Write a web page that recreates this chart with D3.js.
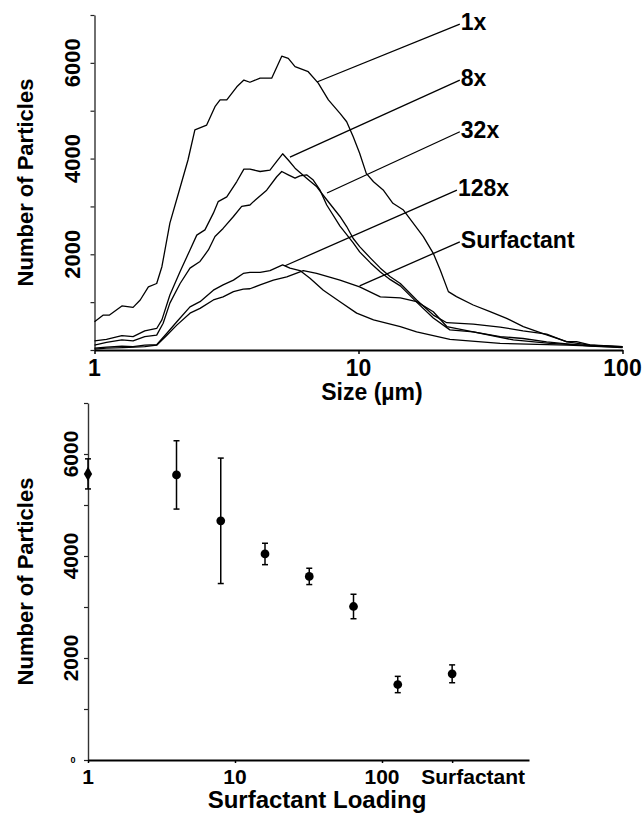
<!DOCTYPE html>
<html>
<head>
<meta charset="utf-8">
<script src="https://cdn.jsdelivr.net/npm/d3@7"></script>
<style>
  body { margin: 0; background: #fff; }
  svg { display: block; font-family: "Liberation Sans", Arial, sans-serif; font-weight: bold; }
</style>
</head>
<body>
<svg id="chart" width="643" height="818"></svg>
<script>
// Top panel: particle size distributions, [size in um, number of particles]
const curve1x = [[1.00,590],[1.08,730],[1.14,730],[1.27,920],[1.40,890],[1.49,1045],[1.60,1320],[1.72,1390],[1.80,1740],[1.93,2650],[2.08,3275],[2.26,3970],[2.40,4600],[2.66,4700],[2.86,5085],[2.99,5225],[3.17,5225],[3.46,5500],[3.68,5640],[3.88,5595],[4.24,5680],[4.69,5680],[5.12,6140],[5.42,6095],[5.75,5920],[6.45,5815],[7.04,5575],[7.69,5225],[8.51,4945],[9.02,4770],[9.55,4455],[10.1,4110],[10.7,3690],[11.4,3515],[12.4,3345],[13.5,3065],[14.8,2925],[17.6,2370],[19.2,2020],[20.4,1670],[21.9,1220],[23.5,1115],[27.2,940],[31.5,800],[36.4,660],[42.1,490],[51.6,315],[61.5,175],[67.0,175],[75.3,105],[100,70]];
const curve8x = [[1.00,190],[1.11,220],[1.27,300],[1.40,280],[1.55,400],[1.72,450],[1.80,630],[1.93,1150],[2.11,1640],[2.30,2090],[2.44,2400],[2.62,2510],[2.82,2860],[2.94,3100],[3.17,3200],[3.46,3520],[3.68,3780],[3.88,3780],[4.24,3730],[4.62,3760],[4.90,3940],[5.16,4100],[5.42,3970],[5.75,3800],[6.36,3590],[6.95,3410],[7.58,3140],[8.51,2790],[9.02,2580],[9.55,2330],[10.1,2160],[11.1,1920],[12.1,1710],[13.2,1530],[14.4,1390],[16.6,1045],[19.2,730],[21.6,570],[27.2,540],[34.4,480],[42.0,400],[51.6,330],[61.5,170],[75.3,100],[100,60]];
const curve32x = [[1.00,100],[1.11,160],[1.27,210],[1.40,190],[1.55,280],[1.72,310],[1.82,560],[1.93,980],[2.11,1390],[2.30,1710],[2.51,1850],[2.70,2090],[2.86,2370],[3.07,2540],[3.36,2790],[3.61,3000],[3.88,3030],[4.00,3100],[4.49,3340],[4.90,3620],[5.12,3730],[5.42,3660],[5.75,3590],[6.00,3640],[6.36,3660],[6.74,3550],[7.15,3340],[7.58,3030],[8.51,2590],[9.55,2240],[10.1,2050],[11.1,1820],[12.1,1630],[13.2,1470],[14.4,1340],[16.6,1000],[19.2,670],[22.2,420],[27.2,380],[34.4,280],[42.0,240],[51.6,170],[61.5,130],[75.3,80],[100,50]];
const curve128x = [[1.00,40],[1.11,60],[1.27,80],[1.40,70],[1.55,100],[1.72,110],[1.88,350],[2.05,590],[2.30,900],[2.51,1010],[2.82,1250],[3.07,1360],[3.36,1460],[3.66,1600],[3.88,1620],[4.24,1620],[4.62,1660],[5.16,1780],[5.50,1710],[6.00,1660],[6.55,1500],[7.36,1250],[8.51,1010],[9.84,770],[11.4,630],[14.4,490],[16.6,380],[22.2,220],[34.4,140],[61.5,100],[100,60]];
const curveSurf = [[1.00,20],[1.11,40],[1.29,50],[1.55,70],[1.72,100],[1.88,310],[2.05,520],[2.30,770],[2.51,870],[2.82,1045],[3.07,1110],[3.36,1220],[3.66,1270],[3.88,1280],[4.24,1360],[4.76,1460],[5.35,1530],[6.18,1660],[6.94,1600],[8.51,1460],[10.1,1320],[12.1,1110],[14.4,1090],[16.6,1010],[19.2,800],[21.6,490],[27.2,380],[38.6,210],[53.1,140],[70.8,100],[100,70]];

const seriesLabels = ['1x', '8x', '32x', '128x', 'Surfactant'];
// leader lines: point on the curve -> label anchor (data units)
const leaderFrom = [[6.96,5600],[5.50,4030],[7.60,3280],[5.27,1760],[10.1,1340]];
const leaderTo = [[24.2,6810],[24.2,5640],[24.2,4560],[23.6,3340],[24.2,2260]];

const sizeTicks = [1, 10, 100];
const countTicks = d3.range(0, 7001, 1000);
const countLabels = [2000, 4000, 6000];

// Bottom panel: mean number of particles vs surfactant loading
const loadings = [1, 4, 8, 16, 32, 64, 128, 300];
const meanCounts = [5610, 5590, 4690, 4040, 3600, 3010, 1480, 1690];
const countErrors = [295, 670, 1230, 210, 160, 240, 160, 175];
const loadingTicks = [1, 10, 100, 300];
const loadingTickLabels = ['1', '10', '100', 'Surfactant'];

(function() {
    const svg = d3.select('#chart');
    svg.append('rect').attr('width', 643).attr('height', 818).attr('fill', '#fff');

    // ---------- top chart ----------
    const x1 = d3.scaleLog().domain([1, 100]).range([94.5, 622.5]);
    const y1 = d3.scaleLinear().domain([0, 7000]).range([350, 15]);
    const top = svg.append('g');

    const yAx1 = top.append('g')
        .attr('transform', 'translate(94.5,0)')
        .call(d3.axisLeft(y1).tickValues(countTicks).tickFormat('').tickSize(4).tickSizeOuter(0));
    yAx1.select('.domain').attr('stroke', '#333').attr('stroke-width', 1.4);
    yAx1.selectAll('.tick line').attr('stroke', '#222').attr('stroke-width', 1.2);

    const xAx1 = top.append('g')
        .attr('transform', 'translate(0,350)')
        .call(d3.axisBottom(x1).tickValues(sizeTicks).tickFormat('').tickSize(4).tickSizeOuter(0));
    xAx1.select('.domain').attr('stroke', '#000').attr('stroke-width', 2);
    xAx1.selectAll('.tick line').attr('stroke', '#000').attr('stroke-width', 1.5);

    top.selectAll('.xlab')
        .data(sizeTicks)
        .enter()
        .append('text')
        .attr('x', d => x1(d))
        .attr('y', 376)
        .attr('text-anchor', 'middle')
        .style('font-size', '23px')
        .text(d => d);

    top.selectAll('.ylab')
        .data(countLabels)
        .enter()
        .append('text')
        .attr('transform', d => 'translate(80,' + y1(d) + ') rotate(-90)')
        .attr('text-anchor', 'middle')
        .style('font-size', '22px')
        .text(d => d);

    top.append('text')
        .attr('transform', 'translate(33,' + (y1(0) + y1(7000)) / 2 + ') rotate(-90)')
        .attr('text-anchor', 'middle')
        .style('font-size', '22px')
        .text('Number of Particles');

    top.append('text')
        .attr('x', 372)
        .attr('y', 400)
        .attr('text-anchor', 'middle')
        .style('font-size', '23px')
        .text('Size (\u00b5m)');

    const line1 = d3.line().x(d => x1(d[0])).y(d => y1(d[1]));
    top.selectAll('.curve')
        .data([curve1x, curve8x, curve32x, curve128x, curveSurf])
        .enter()
        .append('path')
        .attr('d', line1)
        .attr('fill', 'none')
        .attr('stroke', '#000')
        .attr('stroke-width', 1.3)
        .attr('stroke-linejoin', 'round');

    top.selectAll('.leader')
        .data(seriesLabels)
        .enter()
        .append('line')
        .attr('x1', (d, i) => x1(leaderFrom[i][0]))
        .attr('y1', (d, i) => y1(leaderFrom[i][1]))
        .attr('x2', (d, i) => x1(leaderTo[i][0]))
        .attr('y2', (d, i) => y1(leaderTo[i][1]))
        .attr('stroke', '#000')
        .attr('stroke-width', 1.3);

    top.selectAll('.slabel')
        .data(seriesLabels)
        .enter()
        .append('text')
        .attr('x', (d, i) => x1(leaderTo[i][0]) + 1)
        .attr('y', (d, i) => y1(leaderTo[i][1]) + 6)
        .style('font-size', '23px')
        .text(d => d);

    // ---------- bottom chart ----------
    const x2 = d3.scaleLog().domain([1, 1000]).range([88, 529]);
    const y2 = d3.scaleLinear().domain([0, 7000]).range([760, 403]);
    const bot = svg.append('g');

    const yAx2 = bot.append('g')
        .attr('transform', 'translate(88,0)')
        .call(d3.axisLeft(y2).tickValues(countTicks).tickFormat('').tickSize(4).tickSizeOuter(0));
    yAx2.select('.domain').attr('stroke', '#333').attr('stroke-width', 1.4);
    yAx2.selectAll('.tick line').attr('stroke', '#222').attr('stroke-width', 1.2);

    const xAx2 = bot.append('g')
        .attr('transform', 'translate(0,760)')
        .call(d3.axisBottom(x2).tickValues(loadingTicks).tickFormat('').tickSize(3).tickSizeOuter(0));
    xAx2.select('.domain').attr('stroke', '#000').attr('stroke-width', 2.2);
    xAx2.selectAll('.tick line').attr('stroke', '#000').attr('stroke-width', 1.5);

    bot.selectAll('.xlab')
        .data(loadingTicks)
        .enter()
        .append('text')
        .attr('x', d => x2(d))
        .attr('dx', (d, i) => i === 3 ? 21 : 0)
        .attr('y', 784)
        .attr('text-anchor', 'middle')
        .style('font-size', '21px')
        .text((d, i) => loadingTickLabels[i]);

    bot.selectAll('.ylab')
        .data(countLabels)
        .enter()
        .append('text')
        .attr('transform', d => 'translate(78,' + y2(d) + ') rotate(-90)')
        .attr('text-anchor', 'middle')
        .style('font-size', '21px')
        .text(d => d);

    bot.append('text')
        .attr('x', 73)
        .attr('y', y2(0) + 3)
        .attr('text-anchor', 'middle')
        .style('font-size', '9px')
        .text('0');

    bot.append('text')
        .attr('transform', 'translate(33,' + (y2(0) + y2(7000)) / 2 + ') rotate(-90)')
        .attr('text-anchor', 'middle')
        .style('font-size', '22px')
        .text('Number of Particles');

    bot.append('text')
        .attr('x', 317)
        .attr('y', 808)
        .attr('text-anchor', 'middle')
        .style('font-size', '24px')
        .text('Surfactant Loading');

    const pts = loadings.map((l, i) => ({ x: l, y: meanCounts[i], e: countErrors[i], i: i }));

    bot.selectAll('.err')
        .data(pts)
        .enter()
        .append('line')
        .attr('x1', d => x2(d.x))
        .attr('x2', d => x2(d.x))
        .attr('y1', d => y2(d.y - d.e))
        .attr('y2', d => y2(d.y + d.e))
        .attr('stroke', '#000')
        .attr('stroke-width', 1.5);

    [1, -1].forEach(function(s) {
        bot.selectAll('.cap' + s)
            .data(pts)
            .enter()
            .append('line')
            .attr('x1', d => x2(d.x) - 3)
            .attr('x2', d => x2(d.x) + 3)
            .attr('y1', d => y2(d.y + s * d.e))
            .attr('y2', d => y2(d.y + s * d.e))
            .attr('stroke', '#000')
            .attr('stroke-width', 1.5);
    });

    bot.selectAll('.pt')
        .data(pts)
        .enter()
        .append('path')
        .attr('transform', d => 'translate(' + x2(d.x) + ',' + y2(d.y) + ')')
        .attr('d', d => d3.symbol().type(d.i === 0 ? d3.symbolDiamond : d3.symbolCircle).size(d.i === 0 ? 60 : 60)())
        .attr('fill', '#000');
})();
</script>
</body>
</html>
